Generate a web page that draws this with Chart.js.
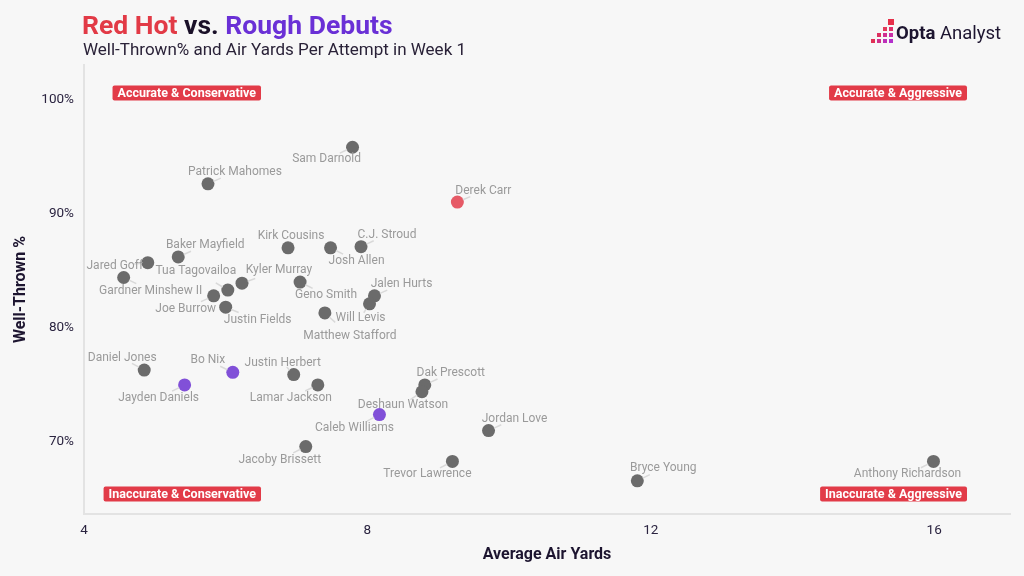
<!DOCTYPE html>
<html>
<head>
<meta charset="utf-8">
<script src="https://cdn.jsdelivr.net/npm/chart.js@4"></script>
<style>
  html, body { margin: 0; padding: 0; background: #f7f7f7; }
  #wrap { position: relative; width: 1024px; height: 576px; overflow: hidden; }
  #chart { position: absolute; left: 0; top: 0; }
  .title { position: absolute; left: 82px; top: 9px; font: 700 26.5px Roboto, sans-serif; line-height: 32px; white-space: nowrap; }
  .sub { position: absolute; left: 83px; top: 38px; font: 400 17px Roboto, sans-serif; color: #2a2238; line-height: 22px; white-space: nowrap; }
  .logo { position: absolute; left: 896px; top: 21px; font: 18.5px Roboto, sans-serif; color: #1d1530; line-height: 24px; white-space: nowrap; }
  .sq { position: absolute; }
</style>
</head>
<body>
<div id="wrap">
  <canvas id="chart" width="1024" height="576"></canvas>
  <div class="title"><span style="color:#e23a46">Red Hot</span> <span style="color:#1a1028">vs.</span> <span style="color:#6a30d6">Rough Debuts</span></div>
  <div class="sub">Well-Thrown% and Air Yards Per Attempt in Week 1</div>
  <div id="squares"></div>
  <div class="logo"><b>Opta</b> Analyst</div>
</div>
<script>
// Week 1 QB data
const players = [
  'Sam Darnold', 'Patrick Mahomes', 'Derek Carr', 'Kirk Cousins', 'Josh Allen',
  'C.J. Stroud', 'Baker Mayfield', 'Jared Goff', 'Gardner Minshew II', 'Kyler Murray',
  'Tua Tagovailoa', 'Geno Smith', 'Joe Burrow', 'Jalen Hurts', 'Will Levis',
  'Justin Fields', 'Matthew Stafford', 'Daniel Jones', 'Bo Nix', 'Justin Herbert',
  'Jayden Daniels', 'Lamar Jackson', 'Dak Prescott', 'Deshaun Watson', 'Caleb Williams',
  'Jordan Love', 'Jacoby Brissett', 'Trevor Lawrence', 'Bryce Young', 'Anthony Richardson'
];
const airYards = [
  7.79, 5.75, 9.27, 6.88, 7.48,
  7.91, 5.33, 4.90, 4.56, 6.23,
  6.03, 7.05, 5.83, 8.10, 8.03,
  6.00, 7.40, 4.85, 6.10, 6.96,
  5.42, 7.30, 8.81, 8.77, 8.17,
  9.71, 7.13, 9.20, 11.81, 15.99
];
const wellThrown = [
  95.8, 92.6, 91.0, 87.0, 87.0,
  87.1, 86.2, 85.7, 84.4, 83.9,
  83.3, 84.0, 82.8, 82.8, 82.1,
  81.8, 81.3, 76.3, 76.1, 75.9,
  75.0, 75.0, 75.0, 74.4, 72.4,
  71.0, 69.6, 68.3, 66.6, 68.3
];
// 'hot' = red hot, 'rough' = rough debut, '' = everyone else
const groups = [
  '', '', 'hot', '', '',
  '', '', '', '', '',
  '', '', '', '', '',
  '', '', '', 'rough', '',
  'rough', '', '', '', 'rough',
  '', '', '', '', ''
];
const xTicks = [4, 8, 12, 16];
const yTicks = [70, 80, 90, 100];
const quadrantLabels = ['Accurate & Conservative', 'Accurate & Aggressive', 'Inaccurate & Conservative', 'Inaccurate & Aggressive'];

// where each name sits relative to its dot (px)
const labelOffsets = [
  [-26, 12], [27, -12], [26, -11], [3, -12], [26, 13],
  [26, -12], [27, -12], [-33, 3], [27, 13], [37, -13],
  [-32, -19], [26, 13], [-28, 13], [27, -12], [-9, 14],
  [32, 13], [25, 23], [-22, -12], [-25, -12], [-11, -12],
  [-26, 13], [-27, 13], [26, -12], [-19, 13], [-25, 13],
  [26, -12], [-26, 13], [-25, 13], [26, -13], [-26, 13]
];

const colorFor = g => g === 'hot' ? '#e65a66' : g === 'rough' ? '#8150d8' : '#6b6b6b';

// logo squares
const sqWrap = document.getElementById('squares');
[[888, 19, 6, '#e6304a'], [889, 27, 4, '#e0306a'], [883, 27, 4, '#e33a5a'],
 [889, 33, 4, '#c82fa6'], [883, 33, 4, '#d02f90'], [877, 33, 4, '#dd3060'],
 [889, 39, 4, '#b32fcc'], [883, 39, 4, '#bd30b8'], [877, 39, 4, '#cf2f8c'], [871, 39, 4, '#e03055']
].forEach(([x, y, s, c]) => {
  const d = document.createElement('div');
  d.className = 'sq';
  d.style.cssText = `left:${x}px;top:${y}px;width:${s}px;height:${s}px;background:${c}`;
  sqWrap.appendChild(d);
});

const nameLabels = {
  id: 'nameLabels',
  afterDatasetsDraw(chart) {
    const ctx = chart.ctx;
    const pts = chart.getDatasetMeta(0).data;
    ctx.save();
    ctx.font = '12px Roboto, sans-serif';
    ctx.textAlign = 'center';
    ctx.textBaseline = 'middle';
    pts.forEach((p, i) => {
      const [dx, dy] = labelOffsets[i];
      const len = Math.hypot(dx, dy);
      const ux = dx / len, uy = dy / len;
      ctx.strokeStyle = '#d9d9d9';
      ctx.lineWidth = 1.5;
      ctx.beginPath();
      ctx.moveTo(p.x + ux * 6, p.y + uy * 6);
      ctx.lineTo(p.x + ux * Math.min(len - 6, 14), p.y + uy * Math.min(len - 6, 14));
      ctx.stroke();
      ctx.fillStyle = '#9a9a9a';
      ctx.fillText(players[i], p.x + dx, p.y + dy);
    });
    ctx.restore();
  }
};

const cornerBoxes = {
  id: 'cornerBoxes',
  afterDraw(chart) {
    const { ctx, chartArea: a } = chart;
    const spots = [
      [a.left + 177, a.top + 28], [a.right - 43, a.top + 28],
      [a.left + 177, a.bottom - 20], [a.right - 43, a.bottom - 20]
    ];
    ctx.save();
    ctx.font = 'bold 12.5px Roboto, sans-serif';
    ctx.textBaseline = 'middle';
    ctx.textAlign = 'left';
    quadrantLabels.forEach((t, i) => {
      const [rx, cy] = spots[i];
      const w = ctx.measureText(t).width + 10;
      ctx.fillStyle = '#e23b48';
      ctx.beginPath();
      ctx.roundRect(rx - w, cy - 7.5, w, 15, 2);
      ctx.fill();
      ctx.fillStyle = '#ffffff';
      ctx.fillText(t, rx - w + 5, cy + 0.5);
    });
    ctx.restore();
  }
};

new Chart(document.getElementById('chart').getContext('2d'), {
  type: 'scatter',
  data: {
    datasets: [{
      data: airYards.map((x, i) => ({ x: x, y: wellThrown[i] })),
      pointBackgroundColor: groups.map(colorFor),
      pointBorderWidth: 0,
      pointRadius: 6.5,
      pointHoverRadius: 6.5
    }]
  },
  options: {
    responsive: false,
    animation: false,
    events: [],
    layout: { padding: { top: 65, right: 14, left: 0, bottom: 0 } },
    plugins: { legend: { display: false }, tooltip: { enabled: false } },
    scales: {
      x: {
        type: 'linear',
        min: 4,
        max: 17.07,
        afterBuildTicks: s => { s.ticks = xTicks.map(v => ({ value: v })); },
        afterFit: s => { s.height = 62; },
        grid: { display: false },
        border: { display: true, color: '#e3e3e3', width: 2 },
        ticks: { color: '#2b2440', font: { size: 13.5, family: 'Roboto' }, padding: 1 },
        title: {
          display: true, text: 'Average Air Yards', color: '#1d1530',
          font: { size: 16, weight: 'bold', family: 'Roboto' }, padding: { top: 0, bottom: 11 }
        }
      },
      y: {
        min: 63.7,
        max: 103,
        afterBuildTicks: s => { s.ticks = yTicks.map(v => ({ value: v })); },
        afterFit: s => { s.width = 84; },
        grid: { display: false },
        border: { display: true, color: '#e3e3e3', width: 2 },
        ticks: { color: '#2b2440', font: { size: 13.5, family: 'Roboto' }, padding: 2, callback: v => v + '%' },
        title: {
          display: true, text: 'Well-Thrown %', color: '#1d1530',
          font: { size: 16, weight: 'bold', family: 'Roboto' }, padding: { top: 11, bottom: 0 }
        }
      }
    }
  },
  plugins: [nameLabels, cornerBoxes]
});
</script>
</body>
</html>
